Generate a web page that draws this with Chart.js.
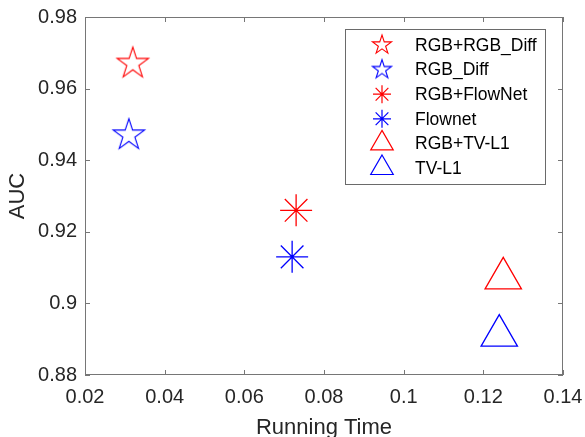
<!DOCTYPE html>
<html lang="en">
  <head>
    <meta charset="UTF-8" />
    <title>AUC vs Running Time</title>
    <style>
      html, body { margin: 0; padding: 0; background: #fff; }
      #wrap { width: 585px; height: 437px; }
    </style>
  </head>
  <body>
    <div id="wrap"><canvas id="myChart" width="585" height="437"></canvas></div>

    <script src="https://cdn.jsdelivr.net/npm/chart.js"></script>
    <script>
      // methods, in legend order
      const methods = ["RGB+RGB_Diff", "RGB_Diff", "RGB+FlowNet", "Flownet", "RGB+TV-L1", "TV-L1"];
      const runTime = [0.032, 0.031, 0.073, 0.072, 0.125, 0.124];
      const auc = [0.967, 0.947, 0.926, 0.913, 0.907, 0.891];
      const markers = ["pentagram", "pentagram", "asterisk", "asterisk", "triangle", "triangle"];
      const colors = ["#ff0000", "#0000ff", "#ff0000", "#0000ff", "#ff0000", "#0000ff"];

      const xTicks = [0.02, 0.04, 0.06, 0.08, 0.1, 0.12, 0.14];
      const yTicks = [0.88, 0.9, 0.92, 0.94, 0.96, 0.98];

      const FONT = "'Liberation Sans', Arial, Helvetica, sans-serif";
      const AXIS = "#767676";
      const TEXT = "#262626";

      // five pointed star outline drawn to a small canvas, used as an image point style
      function pentagram(color, R, lw) {
        const size = 2 * Math.ceil(R + 2);
        const c = document.createElement("canvas");
        c.width = size; c.height = size;
        const g = c.getContext("2d");
        const r = R * 0.382;
        g.translate(size / 2, size / 2);
        g.beginPath();
        for (let i = 0; i < 10; i++) {
          const rad = (i % 2 === 0) ? R : r;
          const a = -Math.PI / 2 + i * Math.PI / 5;
          const px = Math.cos(a) * rad, py = Math.sin(a) * rad;
          if (i === 0) g.moveTo(px, py); else g.lineTo(px, py);
        }
        g.closePath();
        g.strokeStyle = color;
        g.lineWidth = lw;
        g.stroke();
        return c;
      }

      function styleFor(i, small) {
        if (markers[i] === "pentagram") return pentagram(colors[i], small ? 10 : 16.5, 1.1);
        if (markers[i] === "asterisk") return "star";
        return "triangle";
      }
      function radiusFor(i, small) {
        if (markers[i] === "asterisk") return small ? 9 : 16;
        if (markers[i] === "triangle") return small ? 13 : 21;
        return small ? 10 : 16.5;
      }

      const datasets = methods.map((name, i) => ({
        label: name,
        data: [{ x: runTime[i], y: auc[i] }],
        pointStyle: styleFor(i, false),
        pointRadius: radiusFor(i, false),
        borderColor: colors[i],
        backgroundColor: "rgba(0,0,0,0)",
        pointBorderWidth: 1.3,
        small: styleFor(i, true),
        smallR: radiusFor(i, true),
      }));

      // box round the plot, inward ticks, and the boxed legend
      const frame = {
        id: "frame",
        afterDraw(chart) {
          const { ctx, chartArea: a, scales } = chart;
          ctx.save();
          ctx.strokeStyle = AXIS;
          ctx.lineWidth = 1;
          ctx.strokeRect(a.left + 0.5, a.top + 0.5, a.right - a.left - 1, a.bottom - a.top - 1);
          ctx.beginPath();
          xTicks.forEach(v => {
            const px = Math.round(scales.x.getPixelForValue(v)) + 0.5;
            ctx.moveTo(px, a.bottom); ctx.lineTo(px, a.bottom - 5);
            ctx.moveTo(px, a.top); ctx.lineTo(px, a.top + 5);
          });
          yTicks.forEach(v => {
            const py = Math.round(scales.y.getPixelForValue(v)) + 0.5;
            ctx.moveTo(a.left, py); ctx.lineTo(a.left + 5, py);
            ctx.moveTo(a.right, py); ctx.lineTo(a.right - 5, py);
          });
          ctx.stroke();

          // legend
          const lx = a.right - 218, ly = a.top + 12, lw = 200, lh = 155;
          ctx.fillStyle = "#fff";
          ctx.fillRect(lx, ly, lw, lh);
          ctx.strokeStyle = "#6a6a6a";
          ctx.strokeRect(lx + 0.5, ly + 0.5, lw, lh);
          ctx.font = "17.5px " + FONT;
          ctx.textBaseline = "middle";
          chart.data.datasets.forEach((ds, i) => {
            const y = ly + 16 + i * 24.6;
            ctx.strokeStyle = ds.borderColor;
            ctx.fillStyle = "rgba(0,0,0,0)";
            ctx.lineWidth = 1.2;
            Chart.helpers.drawPoint(ctx, { pointStyle: ds.small, radius: ds.smallR, rotation: 0, borderWidth: 1.2 }, lx + 37, y);
            ctx.fillStyle = "#000";
            ctx.fillText(ds.label, lx + 70, y + 1);
          });
          ctx.restore();
        }
      };

      const myChart = new Chart(document.getElementById("myChart"), {
        type: "scatter",
        data: { datasets },
        options: {
          responsive: false,
          animation: false,
          events: [],
          layout: { autoPadding: false, padding: { top: 17, right: 22, left: 0, bottom: 0 } },
          plugins: { legend: { display: false }, tooltip: { enabled: false } },
          scales: {
            x: {
              type: "linear",
              min: 0.02,
              max: 0.14,
              afterBuildTicks: s => { s.ticks = xTicks.map(v => ({ value: v })); },
              afterFit: s => { s.height = 62; s.paddingLeft = 0; s.paddingRight = 0; },
              grid: { display: false, drawTicks: false },
              border: { display: false },
              ticks: {
                padding: 10,
                color: TEXT,
                font: { family: FONT, size: 20 },
                maxRotation: 0,
                callback: v => String(+v.toFixed(2)),
              },
              title: {
                display: true,
                text: "Running Time",
                color: TEXT,
                font: { family: FONT, size: 22 },
                padding: { top: 0, bottom: -4 },
              },
            },
            y: {
              type: "linear",
              min: 0.88,
              max: 0.98,
              afterBuildTicks: s => { s.ticks = yTicks.map(v => ({ value: v })); },
              afterFit: s => { s.width = 85; s.paddingTop = 0; s.paddingBottom = 0; },
              grid: { display: false, drawTicks: false },
              border: { display: false },
              ticks: {
                padding: 8,
                color: TEXT,
                font: { family: FONT, size: 20 },
                callback: v => String(+v.toFixed(2)),
              },
              title: {
                display: true,
                text: "AUC",
                color: TEXT,
                font: { family: FONT, size: 22 },
                padding: { top: 5, bottom: 0 },
              },
            },
          },
        },
        plugins: [frame],
      });
    </script>
  </body>
</html>
